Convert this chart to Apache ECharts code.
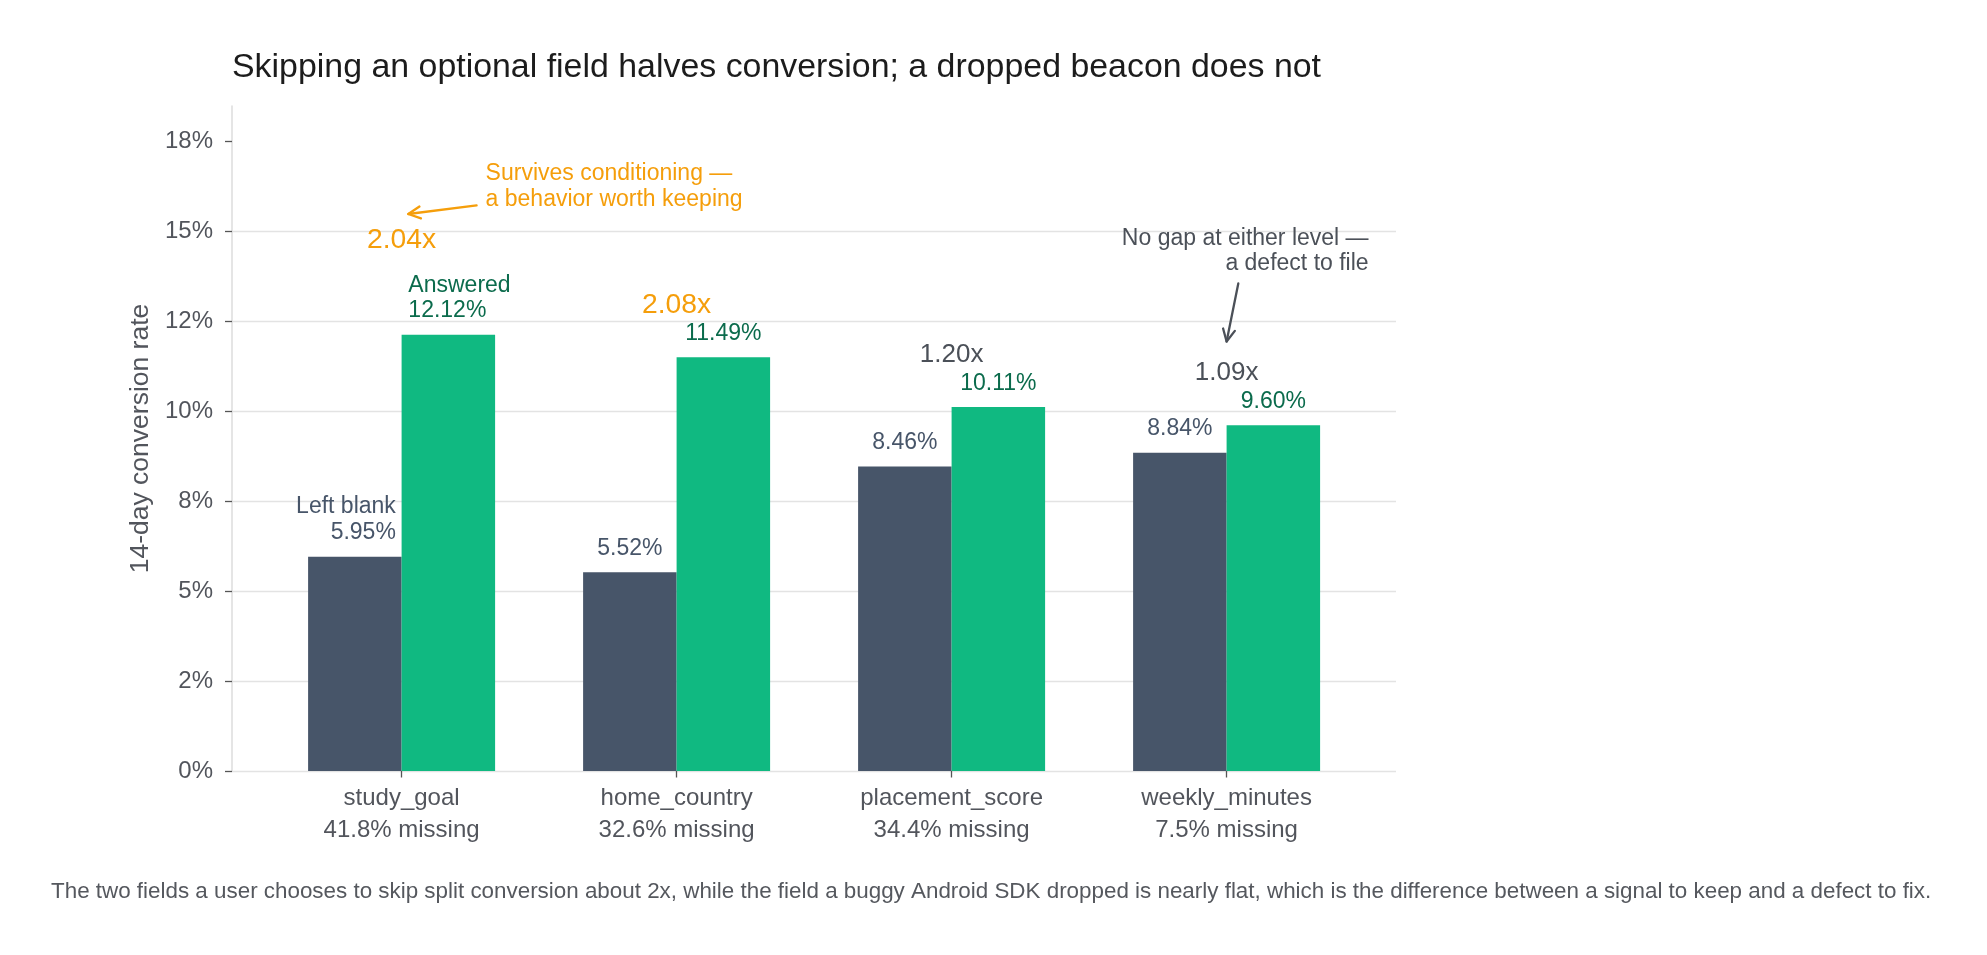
<!DOCTYPE html>
<html lang="en">
<head>
<meta charset="UTF-8">
<title>Skipping an optional field halves conversion</title>
<script src="https://cdn.jsdelivr.net/npm/echarts@6/dist/echarts.min.js"></script>
<style>
    html, body { margin: 0; padding: 0; background: #fff; }
    #chart { width: 1987px; height: 955px; }
</style>
</head>
<body>
<div id="chart"></div>
<script>
    // data
    var fields = ['study_goal', 'home_country', 'placement_score', 'weekly_minutes'];
    var missingPct = ['41.8%', '32.6%', '34.4%', '7.5%'];
    var leftBlank = [5.95, 5.52, 8.46, 8.84];
    var answered = [12.12, 11.49, 10.11, 9.60];
    var yTickValues = [0, 2.5, 5, 7.5, 10, 12.5, 15, 17.5];
    var yTickLabels = ['0%', '2%', '5%', '8%', '10%', '12%', '15%', '18%'];
    var yMax = 18.47;

    var FONT = '"Liberation Sans", Arial, Helvetica, sans-serif';
    var SLATE = '#475569', GREEN = '#10b981', GREEN_TXT = '#0b6b4c';
    var ORANGE = '#f59e0b', GREY = '#4b5058', AXIS_TXT = '#52555c';

    var myChart = echarts.init(document.getElementById('chart'));

    // answered / left blank ratio, printed above each pair
    var ratios = answered.map(function (a, i) { return a / leftBlank[i]; });
    var ratioPoints = ratios.map(function (r, i) {
        // the first pair has two-line labels, so its ratio sits higher
        var lift = i === 0 ? 2.63 : 1.46;
        var big = r > 1.5;
        return {
            value: [i, Math.max(answered[i], leftBlank[i]) + lift],
            label: { color: big ? ORANGE : GREY, fontSize: big ? 28.3 : 26 }
        };
    });

    var blankData = leftBlank.map(function (v, i) {
        if (i === 0) return { value: v, label: { align: 'right', offset: [41, 0] } };
        return v;
    });
    var answeredData = answered.map(function (v, i) {
        if (i === 0) return { value: v, label: { align: 'left', offset: [-40, 0] } };
        return v;
    });

    var gridTop = 106, gridBottom = 184;

    var option = {
        animation: false,
        backgroundColor: '#fff',
        textStyle: { fontFamily: FONT },
        title: [{
            text: 'Skipping an optional field halves conversion; a dropped beacon does not',
            left: 232, top: 48.5, padding: 0,
            textStyle: { fontFamily: FONT, fontSize: 33.9, fontWeight: 'normal', color: '#1c1c1c', lineHeight: 38 }
        }, {
            text: 'The two fields a user chooses to skip split conversion about 2x, while the field a buggy Android SDK dropped is nearly flat, which is the difference between a signal to keep and a defect to fix.',
            left: 51, top: 879, padding: 0,
            textStyle: { fontFamily: FONT, fontSize: 22.4, fontWeight: 'normal', color: '#55585e', lineHeight: 26 }
        }],
        grid: [
            // frame: y axis, gridlines
            { left: 232, right: 591, top: gridTop, bottom: gridBottom },
            // bars, with matplotlib-like side margins
            { left: 264.1, right: 622.9, top: gridTop, bottom: gridBottom }
        ],
        xAxis: [{
            gridIndex: 0, type: 'value', min: 0, max: 1, show: false
        }, {
            gridIndex: 1, type: 'category', data: fields,
            axisLine: { show: false },
            axisTick: { show: true, alignWithLabel: true, length: 6.5, lineStyle: { color: '#555', width: 1.3 } },
            axisLabel: {
                margin: 11, fontSize: 24, lineHeight: 32.4, color: AXIS_TXT, fontFamily: FONT,
                formatter: function (v, i) { return v + '\n' + missingPct[i] + ' missing'; }
            },
            splitLine: { show: false }
        }],
        yAxis: [{
            gridIndex: 0, type: 'value', min: 0, max: yMax, interval: 2.5,
            name: '14-day conversion rate', nameLocation: 'middle', nameGap: 74.5,
            nameTextStyle: { fontSize: 26.5, color: AXIS_TXT, fontFamily: FONT },
            axisLine: { show: true, lineStyle: { color: '#dcdcdc', width: 1.5 } },
            axisTick: { show: true, length: 7, customValues: yTickValues, lineStyle: { color: '#555', width: 1.3 } },
            axisLabel: {
                margin: 19, fontSize: 24, color: AXIS_TXT, fontFamily: FONT, showMaxLabel: false,
                formatter: function (v) {
                    var k = yTickValues.indexOf(v);
                    return k >= 0 ? yTickLabels[k] : '';
                }
            },
            splitLine: { show: true, showMaxLine: false, lineStyle: { color: '#e3e3e3', width: 1.4 } }
        }, {
            gridIndex: 1, type: 'value', min: 0, max: yMax, show: false, splitLine: { show: false }
        }],
        series: [{
            name: 'Left blank', type: 'bar', xAxisIndex: 1, yAxisIndex: 1,
            data: blankData, barWidth: 93.5, barGap: '0%',
            itemStyle: { color: SLATE },
            label: {
                show: true, position: 'top', distance: 11, color: SLATE, fontSize: 23, lineHeight: 26, fontFamily: FONT,
                formatter: function (p) {
                    var s = p.value.toFixed(2) + '%';
                    return p.dataIndex === 0 ? 'Left blank\n' + s : s;
                }
            }
        }, {
            name: 'Answered', type: 'bar', xAxisIndex: 1, yAxisIndex: 1,
            data: answeredData, barWidth: 93.5, barGap: '0%',
            itemStyle: { color: GREEN },
            label: {
                show: true, position: 'top', distance: 11, color: GREEN_TXT, fontSize: 23, lineHeight: 25, fontFamily: FONT,
                formatter: function (p) {
                    var s = p.value.toFixed(2) + '%';
                    return p.dataIndex === 0 ? 'Answered\n' + s : s;
                }
            }
        }, {
            name: 'ratio', type: 'scatter', xAxisIndex: 1, yAxisIndex: 1,
            data: ratioPoints, symbolSize: 1,
            itemStyle: { color: 'rgba(0,0,0,0)', opacity: 1 },
            label: {
                show: true, position: 'inside', fontFamily: FONT, opacity: 1,
                textBorderWidth: 0,
                formatter: function (p) { return ratios[p.dataIndex].toFixed(2) + 'x'; }
            },
            silent: true
        }]
    };
    myChart.setOption(option);

    // annotations, placed from data coordinates of the bar grid
    function px(cat, val, dx) {
        var p = myChart.convertToPixel({ seriesIndex: 0 }, [cat, val]);
        return [p[0] + (dx || 0), p[1]];
    }
    function arrow(p0, p1, color) {
        var dx = p1[0] - p0[0], dy = p1[1] - p0[1];
        var L = Math.sqrt(dx * dx + dy * dy), ux = dx / L, uy = dy / L;
        var hl = 12, hw = 6;
        var a = [p1[0] - ux * hl - uy * hw, p1[1] - uy * hl + ux * hw];
        var b = [p1[0] - ux * hl + uy * hw, p1[1] - uy * hl - ux * hw];
        var st = { stroke: color, lineWidth: 2.3, fill: null, lineCap: 'round', lineJoin: 'round' };
        return [
            { type: 'polyline', shape: { points: [p0, p1] }, style: st, silent: true },
            { type: 'polyline', shape: { points: [a, p1, b] }, style: st, silent: true }
        ];
    }

    var survT = px(0, 16.24, 84);
    var gapT = px(3, 14.45, 142);
    var graphics = [{
        type: 'text', x: survT[0], y: survT[1], silent: true,
        style: {
            text: 'Survives conditioning \u2014\na behavior worth keeping',
            fill: ORANGE, fontSize: 23, fontFamily: FONT, lineHeight: 26,
            align: 'left', verticalAlign: 'middle'
        }
    }, {
        type: 'text', x: gapT[0], y: gapT[1], silent: true,
        style: {
            text: 'No gap at either level \u2014\na defect to file',
            fill: GREY, fontSize: 23, fontFamily: FONT, lineHeight: 25,
            align: 'right', verticalAlign: 'middle'
        }
    }];
    graphics = graphics.concat(arrow(px(0, 15.71, 75), px(0, 15.47, 6.7), ORANGE));
    graphics = graphics.concat(arrow(px(3, 13.54, 11.7), px(3, 11.93, 0), GREY));

    myChart.setOption({ graphic: graphics });
</script>
</body>
</html>
